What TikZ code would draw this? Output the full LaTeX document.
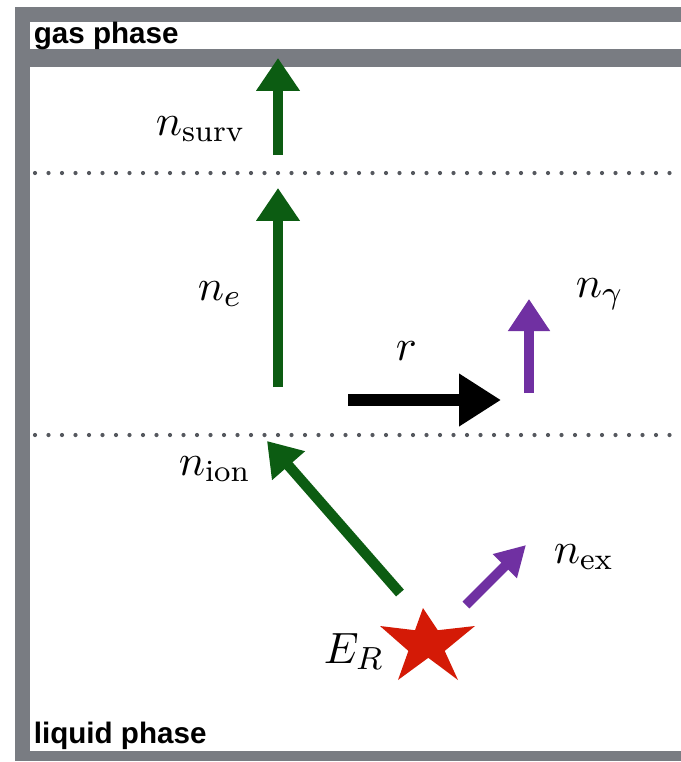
\documentclass[tikz,border=0pt]{standalone}
\usepackage{fontspec}
\newfontfamily\phasefont{Liberation Sans}
\usetikzlibrary{arrows.meta}
\definecolor{framegray}{RGB}{121,124,130}
\definecolor{dotgray}{RGB}{85,88,94}
\definecolor{chalkgreen}{RGB}{12,92,18}
\definecolor{chalkpurple}{RGB}{112,48,162}
\definecolor{chalkred}{RGB}{212,26,6}
\begin{document}
\begin{tikzpicture}[x=0.25pt,y=-0.25pt,
  lbl/.style={anchor=base west,inner sep=0pt,font=\fontsize{11}{13}\selectfont},
  phase/.style={anchor=base west,inner sep=0pt,font=\phasefont\bfseries\fontsize{7.4}{8.5}\selectfont},
  dotline/.style={draw=dotgray,line width=1.05pt,line cap=round,dash pattern=on 0pt off 3.375pt},
  garrow/.style={draw=chalkgreen,line width=2.6pt,-{Triangle[length=8.2pt,width=10.4pt]}},
  parrow/.style={draw=chalkpurple,line width=2.4pt,-{Triangle[length=8pt,width=10pt]}},
  karrow/.style={draw=black,line width=3pt,-{Triangle[length=10.5pt,width=12.5pt]}}
]
\useasboundingbox (0,0) rectangle (681,762);
% frame
\fill[framegray] (15,7) rectangle (681,761);
\fill[white] (30,22) rectangle (681,49);
\fill[white] (30,67) rectangle (681,751);
\node[phase] (gas) at (33,43) {gas phase};
\node[phase] (liq) at (33,743) {liquid phase};
% dotted phase lines
\coordinate (d1a) at (35,173); \coordinate (d1b) at (681,173);
\coordinate (d2a) at (35,435); \coordinate (d2b) at (681,435);
\draw[dotline] (d1a) -- (d1b);
\draw[dotline] (d2a) -- (d2b);
% arrows
\coordinate (s0) at (278,155); \coordinate (s1) at (278,58);
\coordinate (e0) at (278,387); \coordinate (e1) at (278,188);
\coordinate (r0) at (348,400); \coordinate (r1) at (501,400);
\coordinate (g0) at (529,393); \coordinate (g1) at (529,299);
\coordinate (i0) at (400,593); \coordinate (i1) at (267,441);
\coordinate (x0) at (466,605); \coordinate (x1) at (526,545);
\draw[garrow] (s0) -- (s1);
\draw[garrow] (e0) -- (e1);
\draw[karrow] (r0) -- (r1);
\draw[parrow] (g0) -- (g1);
\draw[garrow] (i0) -- (i1);
\draw[parrow,-{Triangle[length=7.5pt,width=8pt]}] (x0) -- (x1);
% star
\fill[chalkred] (423,608) -- (437.8,630.2) -- (475,626) -- (444.7,650.9) -- (458,680)
  -- (428.3,657.8) -- (398,680) -- (408.4,650.9) -- (380,626) -- (415,630.2) -- cycle;
% labels
\node[lbl] (lsurv) at (155,135) {$n_{\rm surv}$};
\node[lbl] (le) at (197,300) {$n_e$};
\node[lbl] (lr) at (395,360) {$r$};
\node[lbl] (lg) at (575,297) {$n_\gamma$};
\node[lbl] (lion) at (178,475) {$n_{\rm ion}$};
\node[lbl] (lex) at (553,563) {$n_{\rm ex}$};
\node[lbl] (lER) at (323,663) {$E_R$};
\end{tikzpicture}
\end{document}
